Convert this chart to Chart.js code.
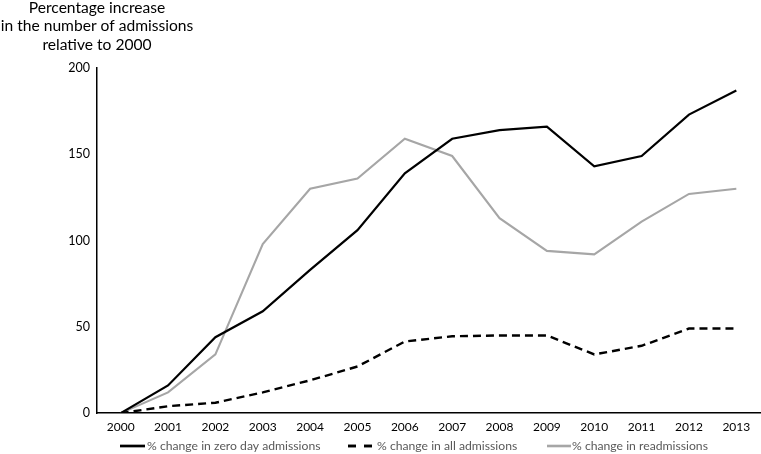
<!DOCTYPE html>
<html>
<head>
<meta charset="utf-8">
<script src="https://cdn.jsdelivr.net/npm/chart.js@4"></script>
<style>
  html, body { margin: 0; padding: 0; background: #fff; }
  #wrap { width: 761px; height: 454px; }
</style>
</head>
<body>
<div id="wrap"><canvas id="chart"></canvas></div>
<script>
const years = ['2000', '2001', '2002', '2003', '2004', '2005', '2006', '2007', '2008', '2009', '2010', '2011', '2012', '2013'];
const zeroDay = [0, 16, 44, 59, 83, 106, 139, 159, 164, 166, 143, 149, 173, 187];
const allAdm = [0, 4, 6, 12, 19, 27, 41.5, 44.5, 45, 45, 34, 39, 49, 49];
const readm = [0, 12, 34, 98, 130, 136, 159, 149, 113, 94, 92, 111, 127, 130];
const yTicks = [0, 50, 100, 150, 200];
const titleLines = ['Percentage increase', 'in the number of admissions', 'relative to 2000'];

// where each legend entry sits: sample start, sample end, text start
const legendSpots = [[120, 145, 147], [348, 372, 377], [547, 571, 572]];
const legendDash = [[], [8, 8], []];

const axisTitle = {
  id: 'axisTitle',
  afterDraw(chart) {
    const ctx = chart.ctx;
    ctx.save();
    ctx.font = '15.6px Lato';
    ctx.fillStyle = '#000';
    ctx.textAlign = 'center';
    ctx.textBaseline = 'alphabetic';
    titleLines.forEach((t, i) => ctx.fillText(t, chart.chartArea.left, 13 + i * 18.4));
    ctx.restore();
  }
};

const lineLegend = {
  id: 'lineLegend',
  afterDraw(chart) {
    const ctx = chart.ctx;
    const y = 446;
    ctx.save();
    ctx.font = '12.2px Lato';
    ctx.textBaseline = 'middle';
    ctx.fillStyle = '#595959';
    chart.data.datasets.forEach((ds, i) => {
      const [x0, x1, tx] = legendSpots[i];
      ctx.beginPath();
      ctx.strokeStyle = ds.borderColor;
      ctx.lineWidth = ds.borderWidth + 0.5;
      ctx.setLineDash(legendDash[i]);
      ctx.moveTo(x0, y);
      ctx.lineTo(x1, y);
      ctx.stroke();
      ctx.fillText(ds.label, tx, y);
    });
    ctx.restore();
  }
};

new Chart(document.getElementById('chart'), {
  type: 'line',
  data: {
    labels: years,
    datasets: [
      {
        label: '% change in zero day admissions',
        data: zeroDay,
        borderColor: '#000',
        backgroundColor: '#000',
        borderWidth: 2.2,
        pointRadius: 0,
        tension: 0
      },
      {
        label: '% change in all admissions',
        data: allAdm,
        borderColor: '#000',
        backgroundColor: '#000',
        borderWidth: 2.4,
        borderDash: [8, 5],
        pointRadius: 0,
        tension: 0
      },
      {
        label: '% change in readmissions',
        data: readm,
        borderColor: '#a6a6a6',
        backgroundColor: '#a6a6a6',
        borderWidth: 2.1,
        pointRadius: 0,
        tension: 0
      }
    ]
  },
  options: {
    responsive: true,
    maintainAspectRatio: false,
    animation: false,
    layout: { padding: { top: 68, right: 1, left: 0, bottom: 12.5 } },
    scales: {
      x: {
        offset: true,
        grid: { display: false, drawTicks: false },
        border: { color: '#000', width: 1.5 },
        ticks: { color: '#000', font: { family: 'Lato', size: 12 }, padding: 7, maxRotation: 0 }
      },
      y: {
        min: 0,
        max: 200,
        afterBuildTicks: axis => { axis.ticks = yTicks.map(v => ({ value: v })); },
        afterFit: axis => { axis.width = 97; },
        grid: { display: false, drawTicks: false },
        border: { color: '#000', width: 1.5 },
        ticks: { color: '#000', font: { family: 'Lato', size: 12.5 }, padding: 7 }
      }
    },
    plugins: {
      legend: { display: false },
      tooltip: { enabled: false }
    }
  },
  plugins: [axisTitle, lineLegend]
});
</script>
</body>
</html>
